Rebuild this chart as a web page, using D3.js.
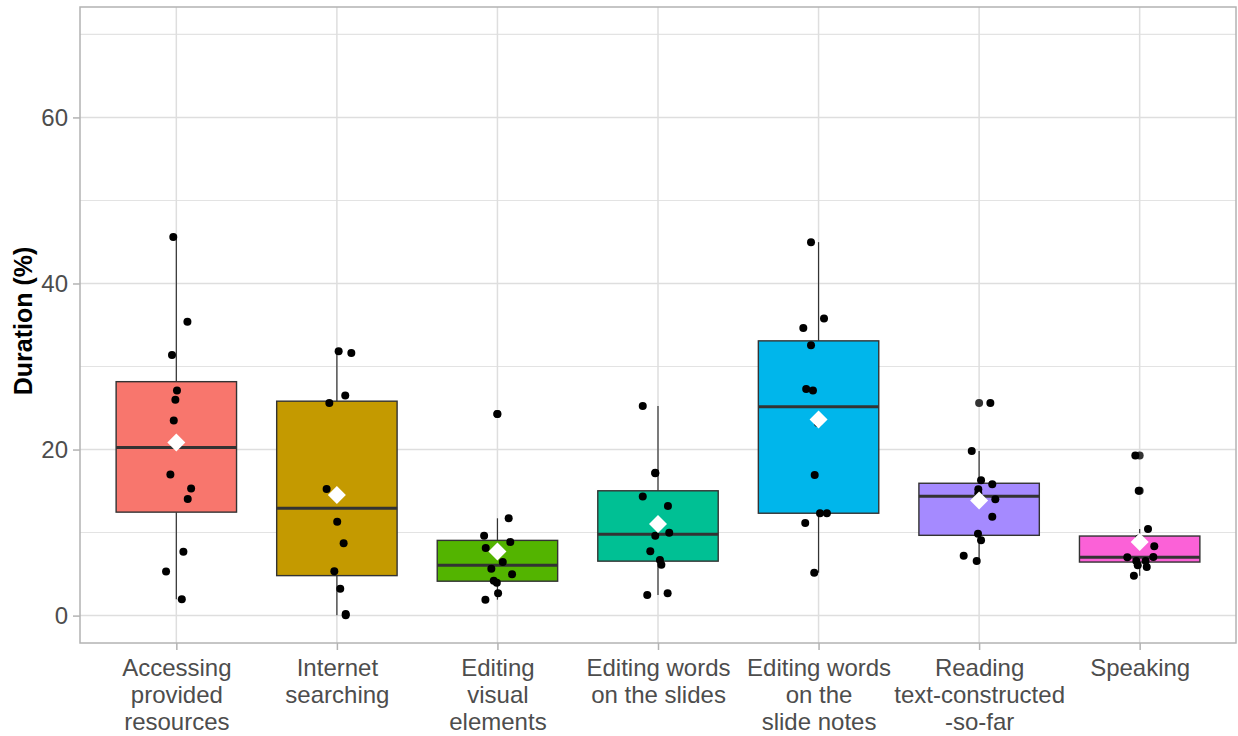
<!DOCTYPE html>
<html>
<head>
<meta charset="utf-8">
<script src="https://cdn.jsdelivr.net/npm/d3@7"></script>
<style>
  html, body { margin: 0; padding: 0; background: #ffffff; }
  svg { display: block; font-family: "Liberation Sans", Arial, sans-serif; }
</style>
</head>
<body>
<svg id="chart" width="1238" height="736"></svg>
<script>
// Activity categories and their wrapped axis labels
const categories = [
  "Accessing provided resources",
  "Internet searching",
  "Editing visual elements",
  "Editing words on the slides",
  "Editing words on the slide notes",
  "Reading text-constructed-so-far",
  "Speaking"
];
const categoryLabels = [
  ["Accessing", "provided", "resources"],
  ["Internet", "searching"],
  ["Editing", "visual", "elements"],
  ["Editing words", "on the slides"],
  ["Editing words", "on the", "slide notes"],
  ["Reading", "text-constructed", "-so-far"],
  ["Speaking"]
];
const fills = ["#F8766D", "#C49A00", "#53B400", "#00C094", "#00B6EB", "#A58AFF", "#FB61D7"];

// Duration (%) per participant, one array per activity
const accessing   = [45.6, 35.4, 31.4, 27.1, 26.0, 23.5, 17.0, 15.3, 14.05, 7.7, 5.3, 1.96];
const internet    = [31.84, 31.64, 26.5, 25.6, 15.25, 14.56, 11.3, 8.7, 5.34, 3.24, 0.2, 0.04];
const visual      = [24.29, 11.72, 9.63, 8.87, 8.14, 6.46, 5.65, 4.97, 4.2, 3.97, 2.69, 1.92];
const slideWords  = [25.25, 17.2, 17.14, 14.33, 13.2, 9.99, 9.63, 7.75, 6.7, 6.13, 2.69, 2.48];
const noteWords   = [44.98, 35.77, 34.65, 32.57, 27.3, 27.1, 23.2, 16.94, 12.33, 12.33, 11.16, 5.17];
const reading     = [25.61, 19.83, 16.3, 15.82, 15.22, 14.75, 14.01, 11.92, 9.87, 9.07, 7.22, 6.58];
const speaking    = [19.27, 15.05, 10.43, 9.3, 8.35, 7.06, 7.02, 6.58, 6.58, 6.06, 5.86, 4.81];

// Horizontal jitter of each point, as a fraction of the category step
const accessingJit  = [-0.019, 0.069, -0.027, 0.004, -0.006, -0.016, -0.037, 0.092, 0.071, 0.044, -0.064, 0.034];
const internetJit   = [0.011, 0.090, 0.052, -0.047, -0.064, 0.0, 0.002, 0.042, -0.016, 0.021, 0.055, 0.055];
const visualJit     = [-0.001, 0.070, -0.083, 0.080, -0.073, 0.033, -0.038, 0.091, -0.023, -0.004, 0.004, -0.075];
const slideWordsJit = [-0.095, -0.017, -0.017, -0.095, 0.062, 0.070, -0.017, -0.048, 0.012, 0.021, 0.060, -0.067];
const noteWordsJit  = [-0.047, 0.034, -0.095, -0.047, -0.077, -0.035, -0.004, -0.024, 0.009, 0.052, -0.083, -0.027];
const readingJit    = [0.070, -0.046, 0.012, 0.082, -0.005, -0.005, 0.101, 0.082, -0.007, 0.012, -0.096, -0.015];
const speakingJit   = [-0.027, -0.006, 0.052, -0.004, 0.091, 0.085, -0.077, -0.021, 0.037, -0.012, 0.044, -0.036];

const yTicks = [0, 20, 40, 60];
const yMinorTicks = [10, 30, 50, 70];
const yLimits = [-3.3, 73.3];
const yTitle = "Duration (%)";

const seriesValues = [accessing, internet, visual, slideWords, noteWords, reading, speaking];
const seriesJitter = [accessingJit, internetJit, visualJit, slideWordsJit, noteWordsJit, readingJit, speakingJit];

// ---- layout ----
const panel = { left: 80, right: 1236, top: 7, bottom: 643 };
const svg = d3.select("#chart");

const x = d3.scalePoint()
  .domain(categories)
  .range([panel.left, panel.right])
  .padding(0.6);
const step = x.step();
const boxWidth = step * 0.75;

const y = d3.scaleLinear().domain(yLimits).range([panel.bottom, panel.top]);

// ---- grid ----
const grid = svg.append("g");
grid.selectAll("line.minor").data(yMinorTicks).join("line")
  .attr("x1", panel.left).attr("x2", panel.right)
  .attr("y1", d => y(d)).attr("y2", d => y(d))
  .attr("stroke", "#E3E3E3").attr("stroke-width", 1.1);
grid.selectAll("line.major").data(yTicks).join("line")
  .attr("x1", panel.left).attr("x2", panel.right)
  .attr("y1", d => y(d)).attr("y2", d => y(d))
  .attr("stroke", "#DEDEDE").attr("stroke-width", 1.5);
grid.selectAll("line.vmajor").data(categories).join("line")
  .attr("x1", d => x(d)).attr("x2", d => x(d))
  .attr("y1", panel.top).attr("y2", panel.bottom)
  .attr("stroke", "#DEDEDE").attr("stroke-width", 1.5);

// ---- boxplot statistics (Tukey, R type-7 quantiles) ----
const stats = categories.map((c, i) => {
  const vals = seriesValues[i].slice().sort(d3.ascending);
  const q1 = d3.quantileSorted(vals, 0.25);
  const med = d3.quantileSorted(vals, 0.5);
  const q3 = d3.quantileSorted(vals, 0.75);
  const iqr = q3 - q1;
  const lo = q1 - 1.5 * iqr, hi = q3 + 1.5 * iqr;
  const inside = vals.filter(v => v >= lo && v <= hi);
  return {
    cat: c, fill: fills[i], q1, med, q3,
    wLo: d3.min(inside), wHi: d3.max(inside),
    outliers: vals.filter(v => v < lo || v > hi),
    mean: d3.mean(vals)
  };
});

const boxes = svg.append("g");
const bg = boxes.selectAll("g").data(stats).join("g");
bg.append("line")
  .attr("x1", d => x(d.cat)).attr("x2", d => x(d.cat))
  .attr("y1", d => y(d.wHi)).attr("y2", d => y(d.q3))
  .attr("stroke", "#333333").attr("stroke-width", 1.2);
bg.append("line")
  .attr("x1", d => x(d.cat)).attr("x2", d => x(d.cat))
  .attr("y1", d => y(d.q1)).attr("y2", d => y(d.wLo))
  .attr("stroke", "#333333").attr("stroke-width", 1.2);
bg.append("rect")
  .attr("x", d => x(d.cat) - boxWidth / 2)
  .attr("width", boxWidth)
  .attr("y", d => y(d.q3))
  .attr("height", d => y(d.q1) - y(d.q3))
  .attr("fill", d => d.fill)
  .attr("stroke", "#333333").attr("stroke-width", 1.4);
bg.append("line")
  .attr("x1", d => x(d.cat) - boxWidth / 2).attr("x2", d => x(d.cat) + boxWidth / 2)
  .attr("y1", d => y(d.med)).attr("y2", d => y(d.med))
  .attr("stroke", "#333333").attr("stroke-width", 3);
bg.selectAll("circle").data(d => d.outliers.map(v => ({ cat: d.cat, v }))).join("circle")
  .attr("cx", d => x(d.cat)).attr("cy", d => y(d.v)).attr("r", 4)
  .attr("fill", "#333333");

// ---- jittered points ----
const pts = categories.flatMap((c, i) =>
  seriesValues[i].map((v, j) => ({ cat: c, v, jit: seriesJitter[i][j] })));
svg.append("g").selectAll("circle").data(pts).join("circle")
  .attr("cx", d => x(d.cat) + d.jit * step)
  .attr("cy", d => y(d.v))
  .attr("r", 4)
  .attr("fill", "#000000");

// ---- mean markers ----
const dm = 9;
svg.append("g").selectAll("path").data(stats).join("path")
  .attr("d", d => {
    const cx = x(d.cat), cy = y(d.mean);
    return `M${cx},${cy - dm}L${cx + dm},${cy}L${cx},${cy + dm}L${cx - dm},${cy}Z`;
  })
  .attr("fill", "#ffffff");

// ---- panel border ----
svg.append("rect")
  .attr("x", panel.left).attr("y", panel.top)
  .attr("width", panel.right - panel.left).attr("height", panel.bottom - panel.top)
  .attr("fill", "none").attr("stroke", "#B3B3B3").attr("stroke-width", 1.5);

// ---- y axis ----
const yAxis = svg.append("g")
  .attr("transform", `translate(${panel.left},0)`)
  .call(d3.axisLeft(y).tickValues(yTicks).tickSize(7).tickPadding(5));
yAxis.select(".domain").remove();
yAxis.selectAll(".tick line").attr("stroke", "#B3B3B3").attr("stroke-width", 1.5);
yAxis.selectAll(".tick text")
  .attr("fill", "#4D4D4D")
  .style("font-size", "24px")
  .style("font-family", "'Liberation Sans', Arial, sans-serif");

// ---- x axis ----
const xAxis = svg.append("g")
  .attr("transform", `translate(0,${panel.bottom})`)
  .call(d3.axisBottom(x).tickSize(7).tickFormat(""));
xAxis.select(".domain").remove();
xAxis.selectAll(".tick line").attr("stroke", "#B3B3B3").attr("stroke-width", 1.5);
xAxis.selectAll(".tick").each(function(d, i) {
  const t = d3.select(this).append("text")
    .attr("fill", "#4D4D4D")
    .attr("text-anchor", "middle")
    .style("font-size", "24px")
    .style("font-family", "'Liberation Sans', Arial, sans-serif");
  categoryLabels[i].forEach((line, k) => {
    t.append("tspan").attr("x", 0).attr("y", 33 + k * 27).text(line);
  });
});

// ---- y title ----
svg.append("text")
  .attr("transform", `translate(32,321) rotate(-90)`)
  .attr("text-anchor", "middle")
  .attr("fill", "#000000")
  .style("font-size", "25px")
  .style("font-weight", "bold")
  .text(yTitle);
</script>
</body>
</html>
